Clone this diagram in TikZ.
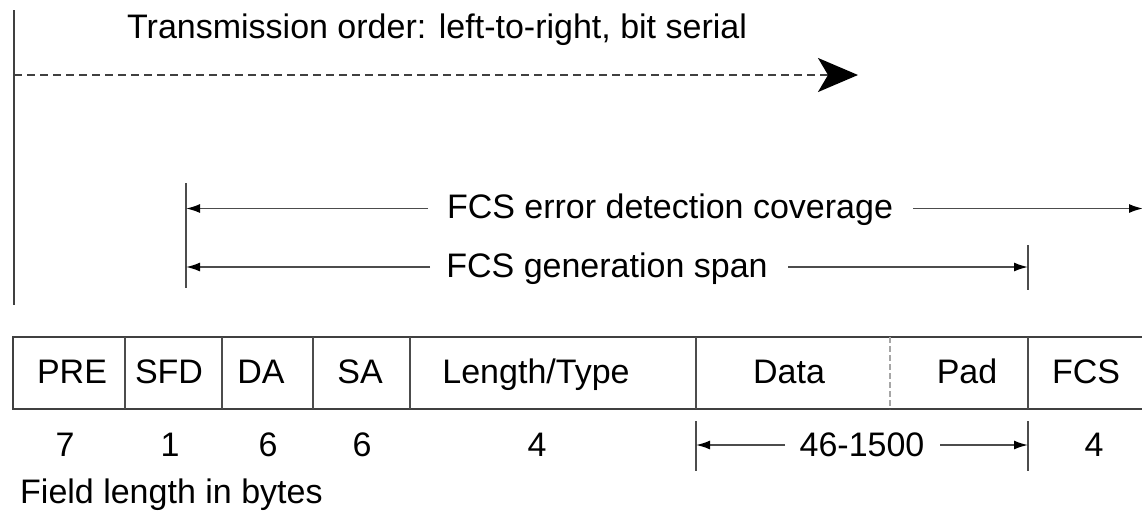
\documentclass[tikz,border=0pt]{standalone}
\usepackage{fontspec}
\setmainfont{Liberation Sans}
\usetikzlibrary{arrows.meta}
\begin{document}
\begin{tikzpicture}[x=1pt,y=-1pt,
  lbl/.style={font=\fontsize{34}{40}\selectfont, inner sep=0pt, anchor=base},
  rule/.style={line width=2pt, draw=black!75},
  thinrule/.style={line width=1.6pt, draw=black!70},
  dimarrow/.style={line width=1.6pt, draw=black!70, -{Latex[length=14pt,width=9pt,color=black]}},
  bigarrow/.style={line width=2pt, draw=black!75, dash pattern=on 8pt off 5pt,
     -{Stealth[length=40pt,width=34pt,inset=10pt,color=black]}},
  dimtick/.style={line width=1.6pt, draw=black!70},
]
\useasboundingbox (0,0) rectangle (1142,517);

% ---- top: transmission order
\coordinate (vtop) at (14,10);
\coordinate (vbot) at (14,305);
\draw[rule] (vtop) -- (vbot);
\node[lbl, anchor=base west] (title) at (127,38) {Transmission order: left-to-right, bit serial};
\coordinate (dstart) at (14,75);
\coordinate (dend) at (858,75);
\draw[bigarrow] (dstart) -- (dend);

% ---- FCS coverage / generation
\coordinate (fcsT) at (186,183);
\coordinate (fcsB) at (186,288);
\draw[thinrule] (fcsT) -- (fcsB);

\node[lbl] (cov) at (670,218) {FCS error detection coverage};
\coordinate (covL) at (186,208.5);
\coordinate (covLm) at (428,208.5);
\coordinate (covRm) at (913,208.5);
\coordinate (covR) at (1143,208.5);
\draw[dimarrow] (covLm) -- (covL);
\draw[dimarrow] (covRm) -- (covR);

\node[lbl] (gen) at (607,277) {FCS generation span};
\coordinate (genL) at (186,267);
\coordinate (genLm) at (430,267);
\coordinate (genRm) at (788,267);
\coordinate (genR) at (1028,267);
\coordinate (genTT) at (1028,245);
\coordinate (genTB) at (1028,290);
\draw[dimtick] (genTT) -- (genTB);
\draw[dimarrow] (genLm) -- (genL);
\draw[dimarrow] (genRm) -- (genR);

% ---- frame table
\coordinate (tl) at (13,337);
\coordinate (tr) at (1142,337);
\coordinate (bl) at (13,409);
\coordinate (br) at (1142,409);
\draw[rule] (tr) -- (tl) -- (bl) -- (br);
\foreach \x/\n in {125/a,222/b,313/c,410/d,696/e,1028/f}{
  \coordinate (div\n t) at (\x,337);
  \coordinate (div\n b) at (\x,409);
  \draw[thinrule] (div\n t) -- (div\n b);
}
\coordinate (padt) at (890,337);
\coordinate (padb) at (890,409);
\draw[line width=1.6pt, draw=black!35, dash pattern=on 6pt off 3pt] (padt) -- (padb);

\node[lbl] (pre) at (72,383) {PRE};
\node[lbl] (sfd) at (169,383) {SFD};
\node[lbl] (da) at (261,383) {DA};
\node[lbl] (sa) at (360,383) {SA};
\node[lbl] (lt) at (536,383) {Length/Type};
\node[lbl] (data) at (789,383) {Data};
\node[lbl] (pad) at (967,383) {Pad};
\node[lbl] (fcs) at (1086,383) {FCS};

% ---- field lengths
\node[lbl] (n1) at (65,456) {7};
\node[lbl] (n2) at (170,456) {1};
\node[lbl] (n3) at (268,456) {6};
\node[lbl] (n4) at (362,456) {6};
\node[lbl] (n5) at (537,456) {4};
\node[lbl] (n6) at (862,456) {46-1500};
\node[lbl] (n7) at (1094,456) {4};

\coordinate (dlT) at (696,421);
\coordinate (dlB) at (696,471);
\coordinate (drT) at (1028,421);
\coordinate (drB) at (1028,471);
\draw[dimtick] (dlT) -- (dlB);
\draw[dimtick] (drT) -- (drB);
\coordinate (dl) at (696,445);
\coordinate (dlm) at (785,445);
\coordinate (drm) at (940,445);
\coordinate (dr) at (1028,445);
\draw[dimarrow] (dlm) -- (dl);
\draw[dimarrow] (drm) -- (dr);

\node[lbl, anchor=base west] (caption) at (20,503) {Field length in bytes};
\end{tikzpicture}
\end{document}
